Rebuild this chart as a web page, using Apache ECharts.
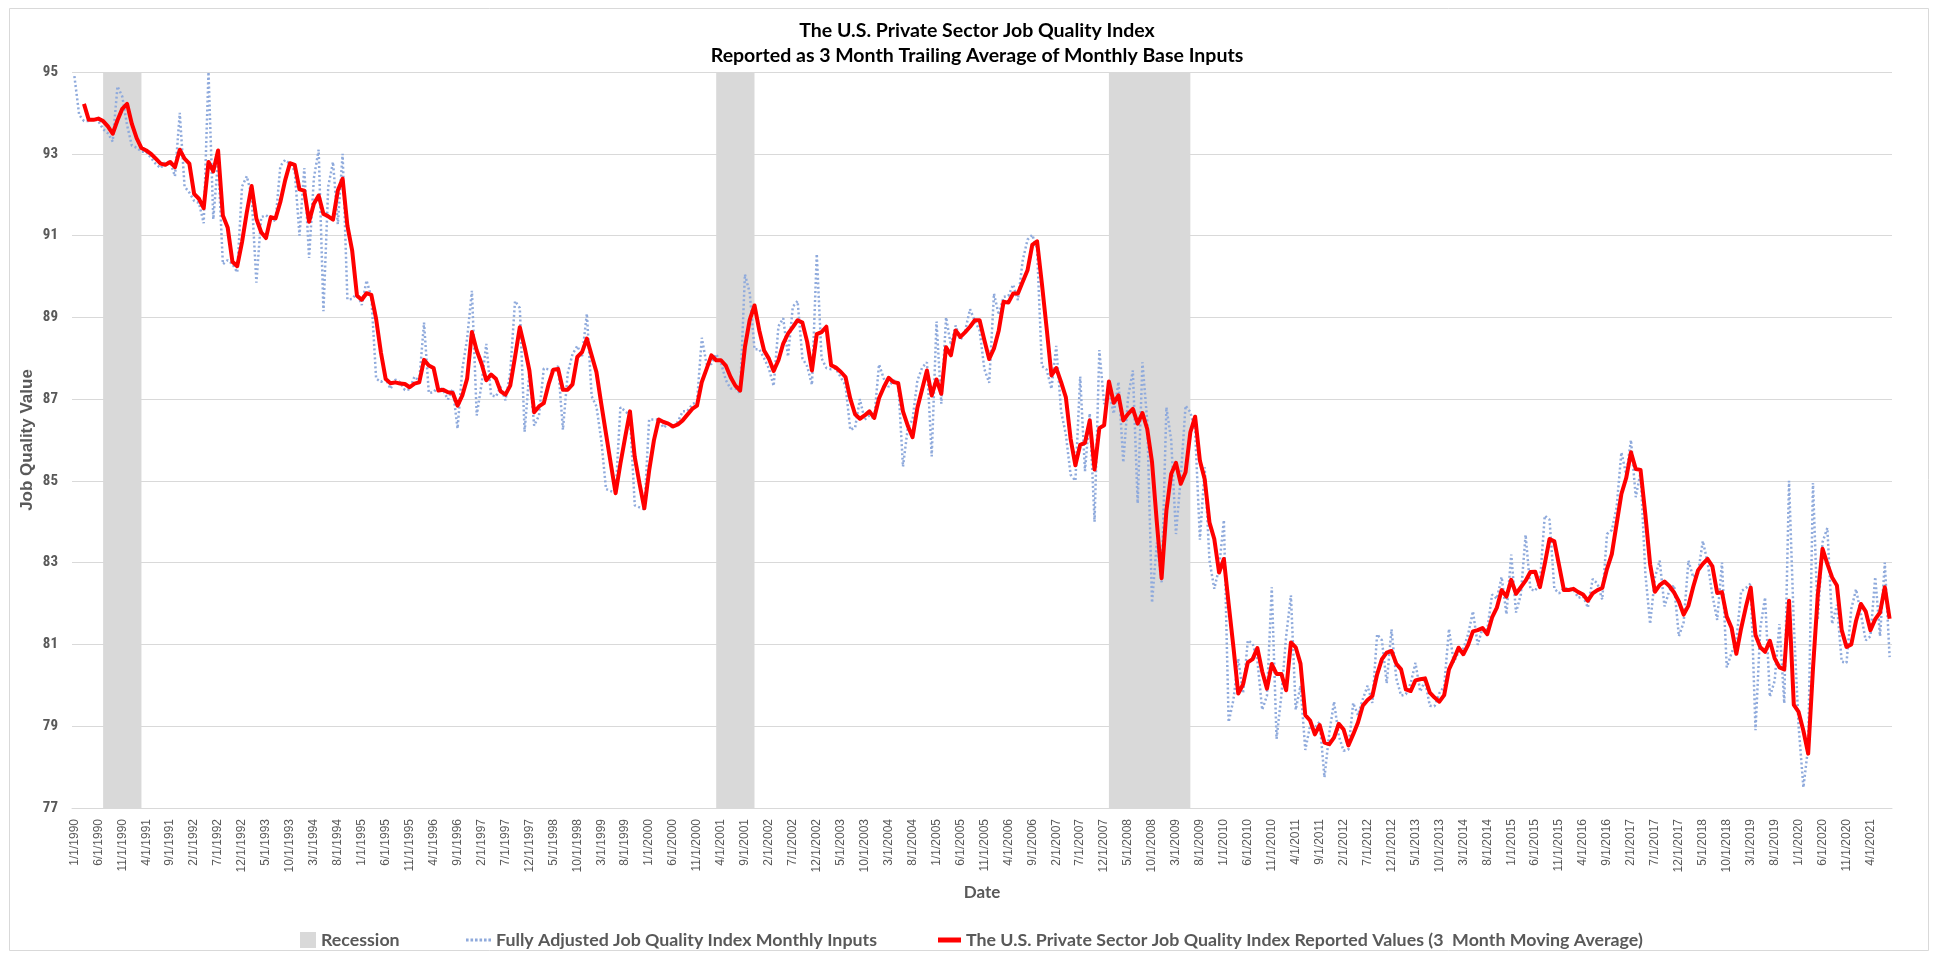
<!DOCTYPE html>
<html>
<head>
<meta charset="utf-8">
<script src="https://cdn.jsdelivr.net/npm/echarts@6/dist/echarts.min.js"></script>
<style>
html,body{margin:0;padding:0;background:#fff;}
#chart{width:1935px;height:958px;}
</style>
</head>
<body>
<div id="chart"></div>
<script>
// ---- Data ----
const firstYear = 1990;
const monthCount = 380; // 1/1/1990 .. 8/1/2021
const yTicks = [77, 79, 81, 83, 85, 87, 89, 91, 93, 95];

const recessionStart = ['7/1/1990', '3/1/2001', '1/1/2008'];
const recessionEnd   = ['3/1/1991', '11/1/2001', '6/1/2009'];
const recessionLevel = 95;

const monthlyInputs = [
94.9, 93.95, 93.8, 93.8, 93.85, 93.8, 93.6, 93.5, 93.3, 94.65,
94.4, 93.7, 93.2, 93.15, 93.05, 93.05, 92.9, 92.75, 92.65, 92.8,
92.8, 92.45, 94.0, 92.2, 92.05, 91.85, 91.8, 91.3, 95.0, 91.4,
92.85, 90.3, 90.4, 90.3, 90.1, 92.2, 92.45, 91.98, 89.85, 91.45,
91.5, 91.4, 91.36, 92.7, 92.85, 92.76, 92.58, 91.0, 92.65, 90.45,
92.4, 93.1, 89.15, 92.2, 92.8, 91.28, 93.0, 89.44, 89.45, 89.6,
89.3, 89.9, 89.5, 87.5, 87.42, 87.5, 87.25, 87.48, 87.41, 87.22,
87.24, 87.55, 87.44, 88.87, 87.15, 87.17, 87.31, 87.21, 86.99, 87.25,
86.28, 87.74, 88.48, 89.65, 86.6, 87.36, 88.35, 87.09, 87.06, 87.3,
86.97, 87.65, 89.4, 89.23, 86.2, 87.67, 86.35, 86.6, 87.75, 87.73,
87.68, 87.81, 86.25, 87.63, 88.1, 88.3, 88.05, 89.09, 87.07, 86.82,
86.0, 84.8, 84.75, 84.7, 86.8, 86.71, 86.59, 84.4, 84.35, 84.3,
86.5, 86.5, 86.5, 86.3, 86.4, 86.29, 86.45, 86.7, 86.71, 86.87,
86.94, 88.5, 87.85, 87.86, 88.1, 87.89, 87.47, 87.26, 87.26, 87.15,
90.05, 89.6, 88.22, 88.22, 88.0, 87.75, 87.32, 88.78, 88.98, 88.04,
89.26, 89.4, 88.0, 87.8, 87.35, 90.55, 88.0, 87.76, 87.73, 87.75,
87.53, 87.34, 86.25, 86.3, 87.0, 86.5, 86.6, 86.52, 87.85, 87.5,
87.3, 87.46, 87.41, 85.35, 86.29, 86.5, 87.45, 87.77, 87.9, 85.6,
88.9, 86.89, 89.0, 88.32, 88.8, 88.44, 88.68, 89.2, 88.91, 88.68,
87.73, 87.4, 89.58, 89.06, 89.5, 89.52, 89.8, 89.42, 90.39, 90.9,
91.02, 90.66, 87.81, 87.72, 87.25, 88.3, 86.71, 86.14, 85.15, 85.0,
87.55, 85.24, 86.65, 84.0, 88.2, 86.88, 87.21, 86.64, 87.42, 85.45,
87.05, 87.7, 84.45, 87.9, 86.46, 82.02, 83.49, 82.52, 86.8, 86.0,
83.7, 85.09, 86.84, 86.68, 86.23, 83.56, 85.33, 83.05, 82.36, 82.87,
84.04, 79.1, 79.65, 80.65, 79.8, 81.1, 81.02, 80.61, 79.4, 79.75,
82.4, 78.69, 79.75, 81.2, 82.2, 79.4, 79.99, 78.42, 79.01, 78.97,
79.11, 77.75, 78.82, 79.6, 78.76, 78.4, 78.43, 79.57, 79.27, 79.66,
79.99, 79.57, 81.25, 81.1, 80.05, 81.37, 80.17, 79.75, 79.78, 80.05,
80.55, 79.85, 80.11, 79.5, 79.49, 79.81, 79.98, 81.38, 80.56, 80.82,
80.9, 81.25, 81.81, 80.99, 81.4, 81.36, 82.22, 82.12, 82.65, 81.74,
83.2, 81.78, 82.22, 83.68, 82.35, 82.31, 82.54, 84.15, 84.05, 82.36,
82.25, 82.38, 82.36, 82.34, 82.14, 82.18, 81.9, 82.6, 82.49, 82.1,
83.7, 83.8, 84.35, 85.7, 85.16, 86.0, 84.6, 85.21, 82.73, 81.5,
82.64, 83.05, 81.93, 82.31, 82.45, 81.2, 81.54, 83.05, 82.64, 82.74,
83.53, 83.0, 82.2, 81.6, 83.0, 80.44, 80.79, 81.08, 82.3, 82.38,
82.49, 78.9, 81.4, 82.15, 79.72, 80.11, 81.5, 79.56, 85.0, 81.5,
79.0, 77.5, 78.5, 84.95, 81.6, 83.5, 83.85, 81.5, 81.97, 80.58,
80.55, 81.87, 82.35, 81.75, 81.1, 81.2, 82.65, 81.2, 83.0, 80.69
];

const reportedValues = [
null, null, 94.22, 93.83, 93.83, 93.86, 93.8, 93.67, 93.49, 93.82,
94.1, 94.22, 93.73, 93.38, 93.14, 93.08, 93.0, 92.88, 92.76, 92.73,
92.8, 92.67, 93.1, 92.88, 92.76, 92.02, 91.9, 91.67, 92.8, 92.57,
93.08, 91.49, 91.2, 90.36, 90.25, 90.84, 91.57, 92.21, 91.41, 91.08,
90.94, 91.45, 91.42, 91.82, 92.35, 92.77, 92.73, 92.13, 92.1, 91.34,
91.78, 91.98, 91.53, 91.47, 91.39, 92.1, 92.39, 91.24, 90.63, 89.53,
89.43, 89.59, 89.55, 88.96, 88.14, 87.49, 87.39, 87.41, 87.38, 87.37,
87.29, 87.38, 87.41, 87.96, 87.82, 87.76, 87.21, 87.23, 87.17, 87.15,
86.84, 87.09, 87.5, 88.64, 88.19, 87.87, 87.46, 87.6, 87.5, 87.19,
87.11, 87.33, 88.03, 88.76, 88.27, 87.7, 86.68, 86.82, 86.9, 87.36,
87.72, 87.74, 87.23, 87.23, 87.36, 88.03, 88.15, 88.48, 88.07, 87.66,
86.89, 86.15, 85.42, 84.7, 85.42, 86.07, 86.7, 85.58, 84.93, 84.33,
85.25, 85.99, 86.5, 86.44, 86.4, 86.33, 86.38, 86.48, 86.62, 86.76,
86.84, 87.42, 87.74, 88.07, 87.95, 87.95, 87.82, 87.54, 87.33, 87.21,
88.27, 88.94, 89.29, 88.68, 88.19, 87.99, 87.69, 87.95, 88.36, 88.6,
88.76, 88.93, 88.87, 88.4, 87.7, 88.59, 88.64, 88.77, 87.83, 87.77,
87.67, 87.54, 87.01, 86.63, 86.52, 86.6, 86.7, 86.54, 87.02, 87.29,
87.52, 87.42, 87.39, 86.7, 86.35, 86.07, 86.78, 87.24, 87.7, 87.09,
87.48, 87.13, 88.27, 88.07, 88.68, 88.52, 88.64, 88.77, 88.93, 88.93,
88.44, 87.98, 88.24, 88.68, 89.38, 89.36, 89.58, 89.58, 89.87, 90.15,
90.77, 90.86, 89.83, 88.73, 87.58, 87.76, 87.42, 87.05, 86.03, 85.38,
85.88, 85.93, 86.48, 85.28, 86.29, 86.36, 87.43, 86.91, 87.09, 86.48,
86.64, 86.76, 86.4, 86.66, 86.27, 85.46, 83.99, 82.62, 84.27, 85.17,
85.44, 84.93, 85.21, 86.19, 86.57, 85.49, 85.04, 83.98, 83.58, 82.76,
83.09, 81.99, 80.93, 79.8, 80.02, 80.56, 80.64, 80.91, 80.34, 79.92,
80.52, 80.28, 80.28, 79.88, 81.05, 80.93, 80.53, 79.27, 79.14, 78.8,
79.03, 78.6, 78.56, 78.72, 79.06, 78.92, 78.53, 78.8, 79.09, 79.5,
79.64, 79.74, 80.27, 80.64, 80.8, 80.84, 80.53, 80.39, 79.9, 79.86,
80.12, 80.15, 80.17, 79.82, 79.7, 79.6, 79.76, 80.39, 80.64, 80.92,
80.76, 80.99, 81.32, 81.35, 81.4, 81.25, 81.66, 81.9, 82.33, 82.17,
82.58, 82.24, 82.4, 82.56, 82.77, 82.78, 82.4, 82.97, 83.58, 83.52,
82.93, 82.33, 82.33, 82.36, 82.28, 82.22, 82.07, 82.25, 82.33, 82.38,
82.85, 83.21, 83.95, 84.68, 85.07, 85.7, 85.29, 85.27, 84.18, 82.96,
82.29, 82.45, 82.54, 82.43, 82.27, 82.05, 81.73, 81.95, 82.41, 82.81,
82.97, 83.09, 82.91, 82.26, 82.28, 81.68, 81.41, 80.77, 81.39, 81.92,
82.39, 81.23, 80.93, 80.82, 81.09, 80.66, 80.44, 80.39, 82.07, 79.52,
79.35, 78.89, 78.33, 80.4, 82.2, 83.34, 82.97, 82.64, 82.44, 81.35,
80.94, 81.0, 81.58, 81.99, 81.81, 81.35, 81.62, 81.78, 82.4, 81.63
];

// ---- Build categories (month labels) ----
const categories = [];
for (let k = 0; k < monthCount; k++) {
  const y = firstYear + Math.floor(k / 12);
  const m = (k % 12) + 1;
  categories.push(m + '/1/' + y);
}
const recessionData = categories.map(() => null);
recessionStart.forEach((s, r) => {
  const a = categories.indexOf(s), b = categories.indexOf(recessionEnd[r]);
  for (let k = a; k <= b; k++) recessionData[k] = recessionLevel;
});

const grey = '#595959';
const narrow = "'Liberation Sans Narrow', 'Arial Narrow', 'Roboto Condensed', sans-serif";
const arial = "'Liberation Sans', Arial, sans-serif";
const lato = "Lato, 'Liberation Sans', sans-serif";

const nameRec = 'Recession';
const nameBlue = 'Fully Adjusted Job Quality Index Monthly Inputs';
const nameRed = 'The U.S. Private Sector Job Quality Index Reported Values (3  Month Moving Average)';

const dotIcon = 'path://M0,0h2.6v3h-2.6z M4.5,0h2.6v3h-2.6z M9,0h2.6v3h-2.6z M13.5,0h2.6v3h-2.6z M18,0h2.6v3h-2.6z M22.4,0h2.6v3h-2.6z';

const chart = echarts.init(document.getElementById('chart'));
const legendText = {color: grey, fontSize: 17.8, fontWeight: 'bold', fontFamily: lato};
chart.setOption({
  animation: false,
  backgroundColor: '#ffffff',
  title: {
    text: 'The U.S. Private Sector Job Quality Index\nReported as 3 Month Trailing Average of Monthly Base Inputs',
    left: 972, top: 13, textAlign: 'center',
    textStyle: {fontFamily: lato, fontSize: 19.5, fontWeight: 'bold', color: '#000', lineHeight: 25}
  },
  graphic: [{
    type: 'rect', shape: {x: 9.5, y: 8.5, width: 1919, height: 942},
    style: {fill: 'none', stroke: '#d9d9d9', lineWidth: 1}, silent: true
  }],
  legend: [
    {data: [{name: nameRec, icon: 'rect'}], left: 300, top: 931, padding: 0, itemWidth: 16, itemHeight: 16, textStyle: legendText},
    {data: [{name: nameBlue, icon: dotIcon}], left: 466, top: 931, padding: 0, itemWidth: 25, itemHeight: 3, textStyle: legendText},
    {data: [{name: nameRed, icon: 'rect'}], left: 938, top: 931, padding: 0, itemWidth: 23, itemHeight: 5, textStyle: legendText}
  ],
  grid: {left: 72, right: 43, top: 72, bottom: 150},
  xAxis: {
    type: 'category', data: categories, boundaryGap: true,
    axisTick: {show: false},
    axisLine: {lineStyle: {color: '#d9d9d9', width: 1}},
    axisLabel: {interval: 4, rotate: 90, color: grey, fontSize: 12, fontFamily: arial, margin: 11},
    name: 'Date', nameLocation: 'middle', nameGap: 76,
    nameTextStyle: {fontFamily: lato, fontSize: 17, fontWeight: 'bold', color: grey}
  },
  yAxis: {
    type: 'value', min: yTicks[0], max: yTicks[yTicks.length - 1], interval: 2,
    axisLine: {show: false}, axisTick: {show: false},
    splitLine: {lineStyle: {color: '#d9d9d9', width: 1}},
    axisLabel: {color: grey, fontSize: 15, fontWeight: 'bold', fontFamily: narrow, margin: 14},
    name: 'Job Quality Value', nameLocation: 'middle', nameGap: 36, nameMoveOverlap: false,
    nameTextStyle: {fontFamily: arial, fontSize: 17, fontWeight: 'bold', color: grey}
  },
  series: [
    {
      name: nameRec, type: 'line', data: recessionData, symbol: 'none', connectNulls: false,
      lineStyle: {width: 0}, itemStyle: {color: '#d9d9d9'},
      areaStyle: {color: '#d9d9d9', opacity: 1, origin: 'start'}, z: 1
    },
    {
      name: nameBlue, type: 'line', data: monthlyInputs, symbol: 'none',
      itemStyle: {color: '#8faadc'},
      lineStyle: {color: '#8faadc', width: 2.5, type: [2, 2.5]}, z: 3
    },
    {
      name: nameRed, type: 'line', data: reportedValues, symbol: 'none',
      itemStyle: {color: '#ff0000'},
      lineStyle: {color: '#ff0000', width: 4, join: 'round'}, z: 4
    }
  ]
});
</script>
</body>
</html>
